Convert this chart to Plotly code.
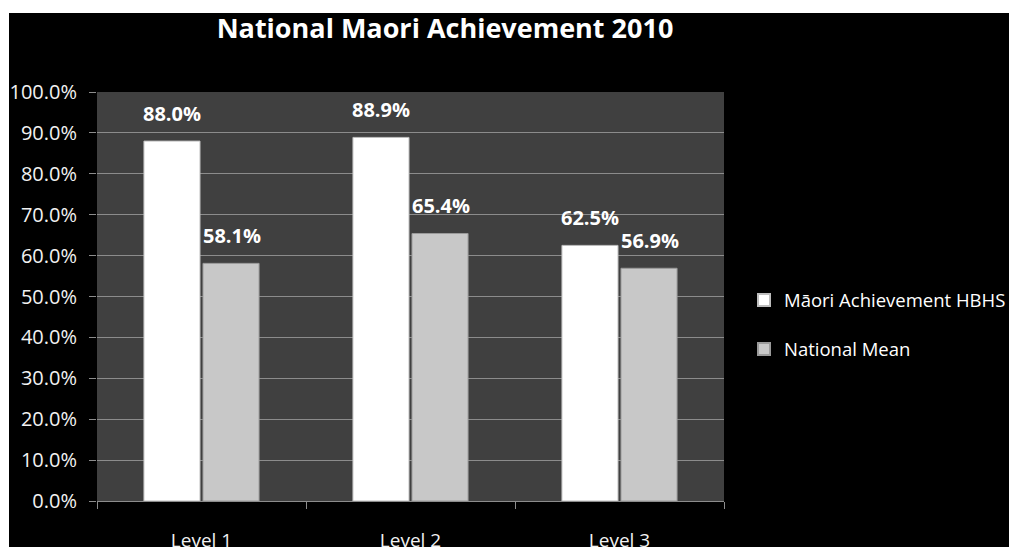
import plotly.graph_objects as go

categories = ["Level 1", "Level 2", "Level 3"]
series_names = ["Māori Achievement HBHS", "National Mean"]
maori_values = [0.880, 0.889, 0.625]
national_values = [0.581, 0.654, 0.569]
y_ticks = [i / 10 for i in range(11)]

W, H = 1009, 547
L, R, T, B = 97, 285, 92, 46
pw, ph = W - L - R, H - T - B

fig = go.Figure()
fig.add_trace(go.Bar(
    x=categories, y=maori_values, name=series_names[0],
    marker=dict(color="#ffffff", line=dict(color="#bdbdbd", width=1)),
    legendgroup="a",
))
fig.add_trace(go.Bar(
    x=categories, y=national_values, name=series_names[1],
    marker=dict(color="#c8c8c8", line=dict(color="#9a9a9a", width=1)),
    legendgroup="b",
))

annotations = []
for vals, shift in ((maori_values, -30), (national_values, 30)):
    for c, v in zip(categories, vals):
        annotations.append(dict(
            x=c, y=v, xref="x", yref="y", text=f"{v*100:.1f}%",
            showarrow=False, xshift=shift, yshift=28, yanchor="middle",
            font=dict(family="Open Sans", size=20, color="#ffffff", weight="bold"),
        ))

shapes = [
    dict(type="rect", xref="paper", yref="paper", layer="above",
         x0=-L / pw - 0.01, x1=(W - L) / pw + 0.01,
         y0=(H - B - 13) / ph, y1=(H - B) / ph + 0.01,
         fillcolor="#ffffff", line=dict(width=0)),
    dict(type="rect", xref="paper", yref="paper", layer="above",
         x0=-L / pw - 0.01, x1=(9 - L) / pw,
         y0=-B / ph - 0.01, y1=(H - B) / ph + 0.01,
         fillcolor="#ffffff", line=dict(width=0)),
]

fig.update_layout(
    width=W, height=H,
    margin=dict(l=L, r=R, t=T, b=B, autoexpand=False),
    paper_bgcolor="#000000",
    plot_bgcolor="#404040",
    barmode="group", bargap=0.435, bargroupgap=0.05,
    font=dict(family="Open Sans", color="#ffffff"),
    title=dict(
        text="<b>National Maori Achievement 2010</b>",
        x=445 / W, xanchor="center", xref="container",
        y=1 - 29 / H, yanchor="middle", yref="container",
        font=dict(family="Open Sans", size=27, color="#ffffff"),
    ),
    legend=dict(
        x=(744 - L) / pw, xanchor="left", y=(H - B - 325) / ph, yanchor="middle",
        font=dict(family="Open Sans", size=18.5, color="#ffffff"),
        bgcolor="rgba(0,0,0,0)", tracegroupgap=22, itemsizing="constant",
    ),
    annotations=annotations,
    shapes=shapes,
    showlegend=True,
)
fig.update_yaxes(
    range=[0, 1], tickvals=y_ticks, tickformat=".1%",
    showgrid=True, gridcolor="#8c8c8c", gridwidth=1,
    ticks="outside", ticklen=7, tickcolor="#8c8c8c",
    tickfont=dict(family="Open Sans", size=20, color="#f2f2f2"),
    ticklabelstandoff=8, zeroline=False, showline=False,
)
fig.update_xaxes(
    tickson="boundaries", ticks="outside", ticklen=7, tickcolor="#8c8c8c",
    showline=True, linecolor="#8c8c8c", linewidth=1,
    tickfont=dict(family="Open Sans", size=19, color="#f2f2f2"),
    ticklabelstandoff=22,
)

fig.write_html(
    "out.html",
    config={"displayModeBar": False},
    post_script="document.body.style.margin='0';document.body.style.overflow='hidden';",
)
